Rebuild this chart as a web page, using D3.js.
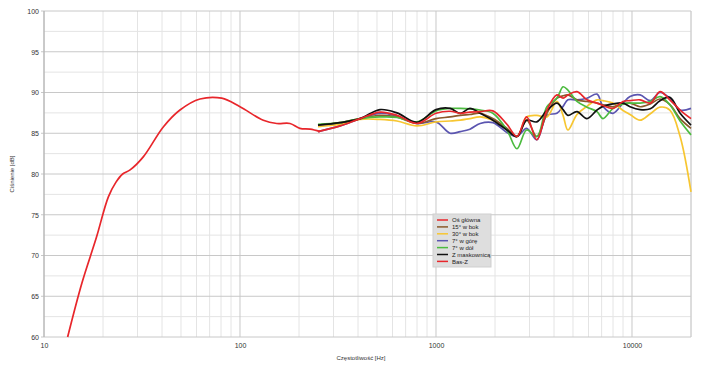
<!DOCTYPE html>
<html lang="pl">
<head>
<meta charset="utf-8">
<title>Charakterystyka częstotliwościowa</title>
<script src="https://cdn.jsdelivr.net/npm/d3@7"></script>
<style>
  body { margin: 0; background: #fff; }
  svg { display: block; font-family: "Liberation Sans", Arial, sans-serif; }
</style>
</head>
<body>
<script>
// frequency grid shared by the measured curves (Hz)
var freqs = [250, 324, 410, 518, 632, 800, 1000, 1180, 1330, 1490, 1680, 1950, 2300, 2590, 2900, 3270,
  3680, 4140, 4450, 4710, 5240, 5890, 6630, 7110, 8000, 9000, 9770, 11000, 12400, 13900, 15600, 17600, 20000];

var osGlowna = [85.2, 85.9, 86.8, 87.6, 87.2, 86.2, 87.45, 87.7, 87.45, 87.6, 87.65, 87.75, 86.1, 84.6, 87.0, 84.2,
  87.85, 89.7, 89.3, 89.7, 90.1, 89.1, 88.7, 88.4, 88.05, 88.9, 89.0, 89.1, 88.7, 90.1, 89.1, 87.85, 86.8];
var bok15 = [86.0, 86.3, 86.8, 87.2, 87.0, 86.2, 86.8, 87.0, 87.2, 87.3, 87.45, 86.8, 85.6, 84.6, 86.6, 84.6,
  87.45, 89.3, 89.6, 89.7, 89.1, 88.9, 88.7, 88.5, 88.25, 88.6, 88.7, 88.25, 88.6, 89.2, 88.5, 86.8, 85.6];
var bok30 = [85.8, 86.1, 86.7, 86.7, 86.5, 85.9, 86.4, 86.5, 86.6, 86.8, 87.0, 86.6, 85.6, 84.6, 87.0, 87.2,
  87.0, 88.9, 87.2, 85.4, 87.3, 88.3, 89.1, 89.0, 88.7, 87.8, 87.3, 86.6, 87.4, 88.2, 87.85, 84.6, 77.8];
var gora7 = [85.2, 85.9, 86.8, 87.45, 87.1, 86.2, 86.4, 85.0, 85.2, 85.5, 86.2, 86.3, 85.1, 84.6, 85.6, 84.2,
  87.2, 87.45, 88.3, 89.1, 89.1, 89.3, 89.8, 88.3, 87.45, 88.7, 89.5, 89.7, 89.0, 90.0, 89.3, 87.85, 88.05];
var dol7 = [86.1, 86.3, 86.8, 87.0, 86.95, 86.4, 87.75, 88.05, 88.05, 88.0, 87.85, 87.45, 85.4, 83.1, 85.4, 84.6,
  88.25, 89.3, 90.7, 90.3, 88.9, 88.2, 87.65, 86.8, 88.05, 88.6, 88.7, 88.7, 88.9, 89.5, 88.5, 86.5, 84.8];
var maskownica = [86.0, 86.3, 86.8, 87.9, 87.5, 86.35, 87.9, 88.05, 87.45, 88.05, 87.45, 86.6, 85.4, 84.6, 86.6, 86.4,
  87.8, 88.7, 87.9, 87.2, 87.65, 86.8, 87.85, 88.3, 88.6, 88.7, 88.25, 87.9, 88.0, 89.0, 89.4, 87.45, 86.0];

// low frequency curve
var basFreqs = [13.2, 15.6, 18.5, 21.3, 23.3, 25.2, 27.5, 32.1, 40.7, 49.4, 62.5, 80.7, 100, 131.5, 154, 180, 202, 228, 256];
var basZ = [60, 66.6, 72.2, 77.2, 79.0, 80, 80.5, 82.1, 85.8, 87.85, 89.2, 89.3, 88.25, 86.6, 86.2, 86.2, 85.6, 85.5, 85.2];

var seriesNames = ["Oś główna", "15° w bok", "30° w bok", "7° w górę", "7° w dół", "Z maskownicą", "Bas-Z"];
var seriesColors = ["#e8262b", "#8b5a2b", "#f7c631", "#5b55b0", "#4cbb3f", "#111111", "#e8262b"];

var xTicks = [10, 100, 1000, 10000];
var yTicks = [60, 65, 70, 75, 80, 85, 90, 95, 100];

var w = 705, h = 371;
var svg = d3.select("body").append("svg").attr("width", w).attr("height", h);

var x = d3.scaleLog().domain([10, 20000]).range([44, 691]);
var y = d3.scaleLinear().domain([60, 100]).range([337, 11]);

// minor grid
var minorX = [];
for (var d = 10; d < 20000; d *= 10) {
  for (var k = 2; k <= 9; k++) { if (d * k <= 20000) minorX.push(d * k); }
}
var minorY = d3.range(62.5, 100, 5);

var grid = svg.append("g");
grid.selectAll(".mx").data(minorX).enter().append("line")
  .attr("x1", function(d) { return x(d); }).attr("x2", function(d) { return x(d); })
  .attr("y1", y(60)).attr("y2", y(100))
  .attr("stroke", "#e4e4e4").attr("stroke-width", 1);
grid.selectAll(".my").data(minorY).enter().append("line")
  .attr("x1", x(10)).attr("x2", x(20000))
  .attr("y1", function(d) { return y(d); }).attr("y2", function(d) { return y(d); })
  .attr("stroke", "#e4e4e4").attr("stroke-width", 1);
grid.selectAll(".Mx").data(xTicks).enter().append("line")
  .attr("x1", function(d) { return x(d); }).attr("x2", function(d) { return x(d); })
  .attr("y1", y(60)).attr("y2", y(100))
  .attr("stroke", "#c8c8c8").attr("stroke-width", 1);
grid.selectAll(".My").data(yTicks).enter().append("line")
  .attr("x1", x(10) - 3).attr("x2", x(20000))
  .attr("y1", function(d) { return y(d); }).attr("y2", function(d) { return y(d); })
  .attr("stroke", "#c8c8c8").attr("stroke-width", 1);
grid.append("line").attr("x1", x(20000)).attr("x2", x(20000)).attr("y1", y(60)).attr("y2", y(100))
  .attr("stroke", "#c8c8c8");
grid.append("line").attr("x1", x(10)).attr("x2", x(10)).attr("y1", y(60)).attr("y2", y(100))
  .attr("stroke", "#b0b0b0");

// axes
var xAxis = d3.axisBottom(x).tickValues(xTicks).tickFormat(d3.format("d")).tickSize(0).tickPadding(6);
var yAxis = d3.axisLeft(y).tickValues(yTicks).tickSize(0).tickPadding(5);

var gx = svg.append("g").attr("transform", "translate(0," + y(60) + ")").call(xAxis);
var gy = svg.append("g").attr("transform", "translate(" + x(10) + ",0)").call(yAxis);
[gx, gy].forEach(function(g) {
  g.select(".domain").remove();
  g.selectAll("text").attr("font-size", 7).attr("fill", "#333").attr("font-family", "Liberation Sans, Arial, sans-serif");
});

svg.append("text").attr("x", 361).attr("y", 360).attr("text-anchor", "middle")
  .attr("font-size", 6).attr("fill", "#333").text("Częstotliwość [Hz]");
svg.append("text").attr("transform", "translate(14,174) rotate(-90)").attr("text-anchor", "middle")
  .attr("font-size", 6).attr("fill", "#333").text("Ciśnienie [dB]");

// curves
var line = d3.line()
  .x(function(d) { return x(d[0]); })
  .y(function(d) { return y(d[1]); })
  .curve(d3.curveCatmullRom.alpha(0.5));

var seriesValues = [osGlowna, bok15, bok30, gora7, dol7, maskownica];
var drawOrder = [3, 2, 1, 4, 5, 0];
drawOrder.forEach(function(i) {
  var pts = freqs.map(function(f, j) { return [f, seriesValues[i][j]]; });
  svg.append("path").datum(pts).attr("d", line)
    .attr("fill", "none").attr("stroke", seriesColors[i]).attr("stroke-width", 1.7);
});
svg.append("path").datum(basFreqs.map(function(f, j) { return [f, basZ[j]]; })).attr("d", line)
  .attr("fill", "none").attr("stroke", seriesColors[6]).attr("stroke-width", 1.7);

// legend
var lg = svg.append("g").attr("transform", "translate(433,214)");
lg.append("rect").attr("width", 58).attr("height", 53).attr("fill", "#dedede").attr("stroke", "#cfcfcf");
var items = lg.selectAll(".it").data(seriesNames).enter().append("g")
  .attr("transform", function(d, i) { return "translate(0," + (6 + i * 6.9) + ")"; });
items.append("line").attr("x1", 4).attr("x2", 15).attr("y1", 0).attr("y2", 0)
  .attr("stroke", function(d, i) { return seriesColors[i]; }).attr("stroke-width", 1.5);
items.append("text").attr("x", 19).attr("y", 2.2).attr("font-size", 6).attr("fill", "#222").text(function(d) { return d; });
</script>
</body>
</html>
